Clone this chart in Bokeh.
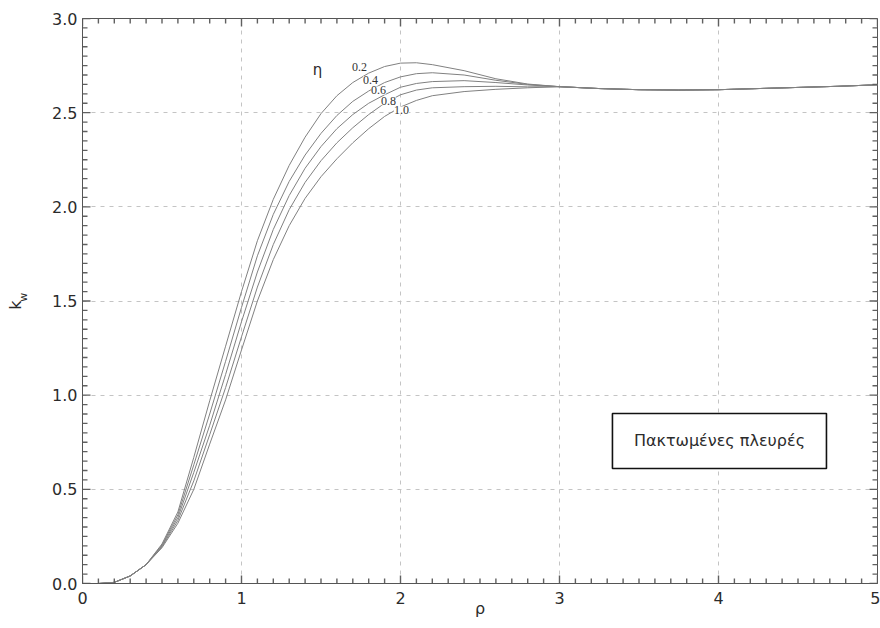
import numpy as np
from bokeh.plotting import figure
from bokeh.models import (Range1d, LinearAxis, Label, BoxAnnotation,
                          SingleIntervalTicker, FixedTicker, ColumnDataSource,
                          NumeralTickFormatter)
from bokeh.embed import file_html
from bokeh.resources import INLINE

# ---------------- data ----------------
rho = [0.0, 0.1, 0.2, 0.3, 0.4, 0.5, 0.6, 0.7, 0.8, 0.9, 1.0, 1.1, 1.2, 1.3, 1.4,
       1.5, 1.6, 1.7, 1.8, 1.9, 2.0, 2.1, 2.2, 2.4, 2.6, 2.8, 3.0, 3.25, 3.5,
       3.75, 4.0, 4.25, 4.5, 4.75, 5.0]

tail = [2.638, 2.628, 2.622, 2.620, 2.622, 2.628, 2.634, 2.640, 2.648]
head = [0.0, 0.0, 0.006, 0.04, 0.10]

k_02 = head + [0.21, 0.38, 0.67, 0.97, 1.26, 1.55, 1.82, 2.04, 2.22, 2.37, 2.495,
               2.59, 2.66, 2.71, 2.745, 2.763, 2.765, 2.755, 2.723, 2.68, 2.652] + tail
k_04 = head + [0.205, 0.365, 0.63, 0.90, 1.18, 1.466, 1.74, 1.96, 2.135, 2.275, 2.39,
               2.485, 2.56, 2.615, 2.66, 2.69, 2.707, 2.712, 2.70, 2.672, 2.65] + tail
k_06 = head + [0.20, 0.35, 0.59, 0.84, 1.11, 1.39, 1.654, 1.88, 2.06, 2.205, 2.32,
               2.415, 2.49, 2.55, 2.595, 2.635, 2.655, 2.665, 2.67, 2.66, 2.647] + tail
k_08 = head + [0.195, 0.335, 0.545, 0.79, 1.04, 1.31, 1.574, 1.80, 1.985, 2.13, 2.245,
               2.34, 2.42, 2.49, 2.55, 2.595, 2.62, 2.632, 2.638, 2.64, 2.637] + tail
k_10 = head + [0.19, 0.32, 0.50, 0.74, 0.975, 1.24, 1.50, 1.72, 1.90, 2.045, 2.16,
               2.255, 2.34, 2.415, 2.48, 2.53, 2.565, 2.59, 2.612, 2.624, 2.632] + tail

eta_labels = ["0.2", "0.4", "0.6", "0.8", "1.0"]
label_rho = [1.742, 1.812, 1.862, 1.925, 2.006]
label_k = [2.74, 2.672, 2.618, 2.56, 2.512]

x_title = "ρ"
y_title_main = "k"
y_title_sub = "w"
box_text = "Πακτωμένες πλευρές"

# ---------------- figure ----------------
TXT = "#2b2b2b"
X0, X1, Y0, Y1 = 0.0, 5.0, 0.0, 3.0
p = figure(width=880, height=628, output_backend="svg", toolbar_location=None,
           x_range=Range1d(X0, X1), y_range=Range1d(Y0, Y1),
           min_border_left=82, min_border_right=3, min_border_top=18,
           min_border_bottom=45, background_fill_color="white",
           border_fill_color="white")
p.outline_line_color = "#555555"

# grid
p.xgrid.grid_line_color = "#c4c4c4"
p.ygrid.grid_line_color = "#c4c4c4"
p.xgrid.grid_line_dash = "4 5"
p.ygrid.grid_line_dash = "4 5"

for ks in [k_02, k_04, k_06, k_08, k_10]:
    src = ColumnDataSource(dict(x=rho, y=ks))
    p.line("x", "y", source=src, line_color="#808080", line_width=1)

bottom_ax = p.below[0]
left_ax = p.left[0]
bottom_ax.ticker = SingleIntervalTicker(interval=1, num_minor_ticks=10)
left_ax.ticker = SingleIntervalTicker(interval=0.5, num_minor_ticks=10)
left_ax.formatter = NumeralTickFormatter(format="0.0")

for ax in [bottom_ax, left_ax]:
    ax.axis_line_color = "#555555"
    ax.major_tick_in = 0
    ax.major_tick_out = 0
    ax.minor_tick_in = 0
    ax.minor_tick_out = 0
    ax.major_label_text_font = "DejaVu Sans"
    ax.major_label_text_font_size = "16px"
    ax.major_label_text_color = TXT

bottom_ax.major_label_standoff = 8
left_ax.major_label_standoff = 5

bottom_ax.axis_label = x_title
bottom_ax.axis_label_text_font = "DejaVu Sans"
bottom_ax.axis_label_text_font_style = "normal"
bottom_ax.axis_label_text_font_size = "16px"
bottom_ax.axis_label_text_color = TXT
bottom_ax.axis_label_standoff = -8

# y title k_w built from two label-only axes (subscript nearer the frame)
def title_axis(text, size, standoff):
    ax = LinearAxis(ticker=FixedTicker(ticks=[]), axis_line_color=None,
                    major_tick_line_color=None, minor_tick_line_color=None,
                    major_label_text_font_size="0px",
                    axis_label=text, axis_label_text_font="DejaVu Sans",
                    axis_label_text_font_style="normal",
                    axis_label_text_font_size=size,
                    axis_label_text_color=TXT,
                    axis_label_standoff=standoff)
    p.add_layout(ax, "left")
    return ax

title_axis("\u2002\u2009" + y_title_sub, "11px", 20)
title_axis(y_title_main + "\u2002", "16px", -11)

# tick marks: dash markers centred on the frame edges (outer half is clipped)
mx = [float(v) for v in np.arange(0, 5.0001, 1.0)]
nx = [float(v) for v in np.round(np.arange(0, 5.0001, 0.1), 6) if abs(v - round(v)) > 1e-6]
my = [float(v) for v in np.arange(0, 3.0001, 0.5)]
ny = [float(v) for v in np.round(np.arange(0, 3.0001, 0.05), 6)
      if abs(v / 0.5 - round(v / 0.5)) > 1e-6]
TICK_COL = "#606060"
for xs, size in [(mx, 16), (nx, 10)]:
    for base in [Y0, Y1]:
        s = ColumnDataSource(dict(x=xs, y=[base] * len(xs)))
        p.scatter("x", "y", source=s, marker="dash", size=size, angle=np.pi / 2,
                  line_color=TICK_COL, line_width=1.4)
for ys, size in [(my, 16), (ny, 10)]:
    for base in [X0, X1]:
        s = ColumnDataSource(dict(x=[base] * len(ys), y=ys))
        p.scatter("x", "y", source=s, marker="dash", size=size,
                  line_color=TICK_COL, line_width=1.4)

# eta header and curve labels
p.add_layout(Label(x=1.478, y=2.725, text="η", text_font="DejaVu Sans",
                   text_font_size="15px", text_color=TXT,
                   text_align="center", text_baseline="middle"))
for t, lx, ly in zip(eta_labels, label_rho, label_k):
    p.add_layout(Label(x=lx, y=ly, text=t, text_font="Liberation Serif",
                       text_font_size="12px", text_color="#333333",
                       text_align="center", text_baseline="middle",
                       background_fill_color="white"))

# boxed note
p.add_layout(BoxAnnotation(left=3.333, right=4.679, bottom=0.611, top=0.903,
                           fill_color="white", fill_alpha=1.0,
                           line_color="#111111", line_alpha=1.0, line_width=1.6))
p.add_layout(Label(x=4.006, y=0.757, text=box_text, text_font="DejaVu Sans",
                   text_font_size="16px", text_color=TXT,
                   text_align="center", text_baseline="middle"))

open("out.html", "w").write(file_html(p, INLINE))
